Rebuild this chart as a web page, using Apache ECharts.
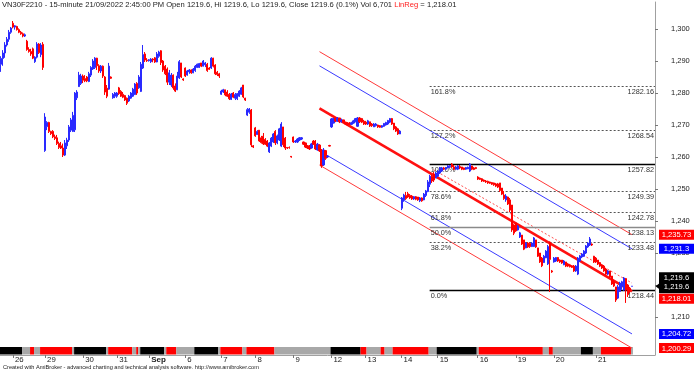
<!DOCTYPE html>
<html><head><meta charset="utf-8">
<script src="https://cdn.jsdelivr.net/npm/echarts@6/dist/echarts.min.js"></script>
<style>html,body{margin:0;padding:0;background:#fff}#c{width:695px;height:373px}</style>
</head><body><div id="c"></div>
<script>
// ---- DATA: 15-minute bars, each row [open, high, low, close] ----
const aug25 = [[1289,1291.5,1286.6,1290.8],[1290.8,1293.4,1288.5,1292.5],[1292.5,1295.9,1291,1295],[1295,1297.5,1294.5,1296.8],[1296.8,1299.7,1296,1299],[1299,1300.6,1298.5,1300.3]];
const aug26 = [[1301.8,1302.5,1300.2,1300.6],[1300.6,1301.2,1299.8,1301],[1300.8,1301,1299.5,1299.8],[1299.8,1300.2,1298.7,1299],[1299,1299.4,1298.2,1298.5],[1298.5,1298.9,1297.4,1297.8],[1297.8,1298.6,1297.5,1298.2],[1296.2,1296.6,1293.2,1293.6],[1293.6,1294.3,1292.6,1293],[1293,1293.8,1291.6,1292.2],[1293.8,1294.2,1290.6,1290.9],[1289.8,1291.5,1289.4,1291.2],[1291.2,1295.9,1290.8,1295.3],[1295.3,1295.6,1292.2,1292.6],[1292,1295.6,1291.2,1295],[1295.2,1295.9,1287.2,1288]];
const aug29 = [[1262,1273.7,1261.6,1272.5],[1269.5,1271.2,1268.4,1270.8],[1270.8,1271,1267.5,1268],[1268,1268.2,1266.9,1267.3],[1268,1268.4,1265.9,1266.3],[1266.3,1267,1265.3,1265.8],[1266,1266.9,1263.75,1264.2],[1264.2,1264.8,1262.5,1263],[1263.5,1264.7,1262.5,1262.8],[1262.8,1264.2,1260,1260.6],[1260.6,1265.3,1260.3,1264.4],[1263.5,1266,1262.5,1265.3],[1265.3,1270,1264.7,1269.4],[1268.4,1272.2,1267.8,1271.6],[1268,1274.1,1267.8,1273],[1268.5,1280.3,1267.8,1280],[1278.5,1280.9,1277.8,1280.3],[1282,1286.6,1281.9,1285.6],[1283,1286,1282.5,1285.3]];
const aug30 = [[1285.3,1285.8,1283.1,1284],[1284.5,1285.6,1283.4,1283.8],[1285,1285.3,1283.4,1283.8],[1283.6,1286.6,1283.4,1286],[1285.6,1288.4,1285,1288],[1287.5,1290.6,1287.2,1290],[1288,1291.2,1287.5,1290.9],[1290.9,1291,1287.2,1288.5],[1288.5,1289,1286.3,1286.9],[1286.9,1288.75,1286.25,1288.4],[1288.4,1288.6,1284.7,1285.3],[1285,1285.3,1279.4,1280.3],[1281.5,1282.5,1278.4,1279],[1281.2,1289.4,1281,1288.4],[1285,1285.2,1284.4,1284.6],[1278.5,1280,1278.2,1279.6],[1279,1280.3,1278.4,1280]];
const aug31 = [[1279,1280.3,1278.5,1280],[1281.6,1281.9,1279.4,1279.8],[1280.5,1280.9,1278.75,1279],[1279.6,1280.3,1278.4,1278.7],[1279.2,1279.4,1277.5,1277.8],[1278.4,1278.6,1276.25,1276.8],[1277.5,1279.4,1277.2,1279],[1278.4,1280.3,1278.2,1280],[1279,1281.6,1278.75,1281.2],[1279.5,1283.1,1279.4,1282.8],[1283,1283.4,1279.4,1280],[1281.6,1285.6,1281.3,1285],[1280.5,1289.7,1280.3,1289],[1287.8,1295,1287.5,1292],[1292.2,1292.8,1289.7,1290.3],[1290.3,1290.9,1289.7,1290.1]];
const sep05 = [[1290.1,1290.6,1289.8,1290.4],[1289.8,1290.9,1289.4,1290.6],[1290.6,1290.9,1289.6,1290.3],[1291,1291.25,1289.4,1289.7],[1289.7,1292.8,1289.6,1292.2],[1291.5,1293.2,1291,1292.8],[1293.2,1293.4,1288.75,1289.5],[1290,1290.3,1286.6,1287.2],[1288.4,1288.75,1285.6,1286],[1287.5,1288,1282.5,1283.4],[1283.4,1287.2,1282.5,1286.3],[1282.5,1286.25,1281.9,1285.6],[1285.6,1285.8,1281,1281.6],[1282.2,1283,1280.3,1280.6],[1281,1286.6,1280.9,1285.3],[1284.7,1290.3,1284.4,1289.8],[1289.4,1289.4,1284.7,1285],[1284.4,1284.6,1283.8,1284.1]];
const sep06 = [[1287.8,1288,1285,1285.3],[1285.6,1287.2,1285.4,1286.9],[1286.6,1287.5,1286,1287.2],[1287.2,1287.4,1286,1286.3],[1286.3,1287.8,1286.2,1287.5],[1287,1288.75,1286.6,1288.4],[1288,1289.2,1287.8,1289],[1288,1289.4,1287.8,1289.2],[1289.4,1289.4,1288.1,1288.4],[1288.4,1290.3,1288.3,1290],[1288.8,1289.7,1288.1,1289.4],[1289,1289.4,1286.6,1287],[1287.8,1288.1,1287.2,1287.4],[1287.8,1291.2,1287.5,1290.9],[1290.9,1291,1288,1288.4],[1288.75,1289,1285.6,1286],[1286.5,1286.9,1285.3,1285.8],[1286,1286.3,1284.7,1285.3]];
const sep07 = [[1279.6,1281,1279.4,1280.6],[1280.3,1281.3,1280,1281],[1281,1281,1279,1279.4],[1280.3,1280.9,1278.75,1279],[1279.6,1280,1277.8,1278.2],[1278,1280,1277.8,1279.7],[1280,1280.3,1278.4,1278.7],[1278.4,1280,1277.8,1279.5],[1278.2,1280,1277.8,1279.8],[1279,1280.9,1278.75,1280.6],[1279.6,1281.9,1279.4,1281.6],[1282.5,1282.5,1278.4,1278.75],[1278.4,1278.5,1277.5,1277.8],[1273.1,1275.3,1272.8,1274.8],[1274,1275.3,1273.5,1275],[1274.7,1275,1263.1,1263.8],[1263.5,1263.75,1262.8,1263.1]];
const sep08 = [[1269.1,1269.4,1266.3,1266.6],[1267,1268.4,1266.9,1268],[1268.4,1268.4,1264.7,1265],[1266,1266.6,1264.2,1264.5],[1266.5,1267.5,1263.75,1264.1],[1265.5,1265.9,1263.75,1264],[1265,1265.3,1263.1,1263.4],[1261.6,1264.7,1261.25,1264.4],[1263.4,1266.25,1263.1,1265.9],[1264.7,1267.5,1264.4,1267.2],[1268,1268.4,1263.75,1264.4],[1264.4,1267,1264,1266.6],[1265.3,1269.1,1265,1268.8],[1263.4,1270.9,1263.1,1270.3],[1269.4,1269.4,1263.1,1263.8],[1265.9,1266.25,1262.2,1262.8],[1263,1263.1,1262.5,1262.8],[1263,1263.3,1262.6,1262.9],[1260.2,1260.3,1259.8,1260]];
const sep09 = [[1266.25,1266.4,1264.4,1264.7],[1264.7,1265.3,1264.4,1265],[1264.7,1265.9,1264.4,1265.6],[1265.3,1266.25,1265,1266],[1265.6,1266.25,1265.3,1266],[1264.7,1264.8,1263.75,1264],[1264.4,1264.5,1262.8,1263.1],[1263.5,1263.75,1262.5,1262.8],[1263.4,1263.75,1262.2,1262.5],[1262.8,1264.4,1262.6,1264.1],[1265,1265.3,1263.75,1264],[1264,1265.3,1262.2,1262.5],[1262.2,1264.4,1262,1264],[1263.75,1264,1261.6,1261.9],[1262.2,1262.5,1256.6,1257.2],[1257.5,1262.8,1257.2,1262.2],[1262,1262.2,1259.1,1259.6],[1260,1260.6,1259.7,1260.3],[1263.6,1263.8,1263.3,1263.4]];
const sep12 = [[1269.4,1272.2,1269.1,1271.9],[1270.6,1272.2,1270.5,1272],[1272.2,1272.5,1270.9,1271.2],[1271.2,1272.5,1271,1272.2],[1272.2,1272.2,1270.6,1271],[1271,1272,1270.8,1271.6],[1271.6,1271.6,1270.6,1270.9],[1270.9,1271,1270,1270.3],[1270.6,1270.9,1269.7,1270],[1270.6,1270.9,1270,1270.2],[1270.2,1271,1270,1270.7],[1270.6,1271.6,1270.4,1271.3],[1271,1272.2,1270.9,1272],[1269.6,1272.5,1269.4,1272.2],[1272.2,1272.5,1270.6,1271],[1272,1272.2,1270.6,1270.9],[1271.2,1271.6,1270,1270.3]];
const sep13 = [[1270.9,1271.3,1270,1270.3],[1270.3,1271.6,1270,1271.3],[1271,1271,1269.4,1269.7],[1270.3,1270.6,1269.4,1269.8],[1269.4,1270.6,1269.4,1270.3],[1269.8,1270.6,1269.5,1270.3],[1270,1270.1,1269.1,1269.4],[1269.8,1270,1269.1,1269.3],[1269.3,1270,1269.1,1269.8],[1269.6,1270.6,1269.4,1270.5],[1270,1271,1269.8,1270.8],[1270.3,1271.6,1270,1271.4],[1270.9,1272.2,1270.6,1272],[1272,1272.2,1270,1270.3],[1270.6,1270.6,1268.4,1268.8],[1269.4,1269.7,1267.8,1268.1],[1268.8,1269.1,1266.9,1267.2],[1267.2,1268.4,1267.2,1268.1]];
const sep14 = [[1244,1247.5,1243.4,1247.2],[1246.6,1248.5,1246,1248.1],[1248,1249.1,1246.6,1247],[1248.5,1249.1,1247.2,1247.5],[1248,1248.4,1246.9,1247.2],[1247.8,1248.1,1246.6,1246.9],[1246.9,1247.8,1246.6,1247.6],[1247.6,1247.8,1246.5,1246.8],[1247.5,1247.5,1246.3,1246.6],[1246.3,1247.5,1245.9,1247.2],[1247.2,1247.4,1246,1246.3],[1246.6,1248.75,1246.5,1248.4],[1248,1249.7,1247.5,1249.4],[1249.2,1252.8,1249,1252.2],[1251.5,1254.4,1250.6,1254],[1254,1254.4,1251.9,1252.5],[1254.7,1255.3,1252.2,1252.8],[1253.4,1255.3,1253.4,1255]];
const sep15 = [[1254,1255.9,1253.75,1255.6],[1255,1256.9,1254.7,1256.6],[1255.6,1256.9,1255.3,1256.6],[1256.6,1256.9,1255.9,1256.2],[1256.2,1256.9,1256,1256.7],[1256.6,1257.5,1256.5,1257.2],[1257,1257.5,1256.6,1257.3],[1257.8,1258.1,1256.6,1256.9],[1256.9,1257.5,1255.9,1256.2],[1256.2,1257.2,1256,1256.9],[1256.2,1257.5,1255.9,1257.2],[1257,1257.5,1256.2,1256.6],[1256.9,1256.9,1255.9,1256.2],[1256.6,1256.7,1255.9,1256.1],[1256.2,1256.9,1256,1256.7],[1256.3,1257,1256.2,1256.8],[1255.6,1258.1,1255.3,1257.8],[1257.2,1257.2,1255.9,1256.2],[1256.6,1256.9,1255.9,1256.1],[1256.7,1256.9,1256.2,1256.4]];
const sep16 = [[1253.75,1254,1252.8,1253.1],[1253.4,1253.6,1252.8,1253],[1253.2,1253.4,1252.2,1252.5],[1252.8,1253,1252.2,1252.4],[1252.5,1252.8,1251.9,1252.2],[1252.4,1252.6,1251.6,1251.9],[1252.2,1252.3,1251.6,1251.8],[1252,1252.2,1251.25,1251.5],[1251.9,1252,1251,1251.3],[1251.6,1251.9,1250.6,1250.9],[1251.6,1251.9,1250.3,1250.6],[1251.9,1251.9,1249.1,1249.5],[1250.3,1250.3,1248.1,1248.4],[1248.1,1249.4,1246.6,1247],[1246.6,1248.4,1246,1247.8],[1247.5,1247.6,1245,1245.3],[1246.6,1247.2,1242.8,1243.4],[1245,1245,1236.6,1237.2],[1238.75,1239,1235.6,1236.2]];
const sep19 = [[1239.4,1239.4,1236.6,1236.9],[1237.2,1238.75,1237,1238.4],[1235,1236.6,1234.7,1236.3],[1235.6,1235.6,1232.5,1232.8],[1234.1,1234.1,1230.9,1231.2],[1231.6,1233.4,1231.5,1233.1],[1233.1,1233.4,1231.6,1231.9],[1233,1233.4,1231.6,1232],[1232,1233.4,1231.9,1233.1],[1232,1235,1231.9,1234.7],[1234.1,1234.1,1231.6,1231.9],[1231.6,1231.6,1228.75,1229],[1230,1230,1226.9,1227.2],[1228.4,1228.75,1225.6,1226],[1227,1229.4,1226.9,1229],[1228.5,1230.9,1228.4,1230.6],[1226.6,1232.5,1226.25,1232],[1233.4,1233.6,1217.8,1228],[1224.4,1224.7,1223.8,1224.1]];
const sep20 = [[1227.2,1228.75,1227,1228.4],[1227.5,1228.75,1227.2,1228.6],[1228.6,1228.75,1227.2,1227.5],[1227.8,1228,1226.9,1227.2],[1227.8,1227.8,1226.6,1226.9],[1226.3,1227.8,1226.2,1227.5],[1227.2,1227.2,1225.6,1225.9],[1226.6,1226.9,1225.6,1225.9],[1226.3,1226.6,1225.5,1225.7],[1226,1226.25,1225.3,1225.5],[1225.9,1226.25,1224.1,1224.4],[1224.4,1226.25,1224.1,1225.9],[1223.4,1228.75,1223.1,1228.4],[1227.5,1229.4,1227.2,1229.1],[1228.75,1230,1228.4,1229.7],[1229,1230.9,1228.75,1230.6],[1230,1232.5,1229.7,1232.2],[1231.9,1233.4,1231.6,1233.1],[1232.5,1235,1232.2,1234.4],[1232.8,1233,1232.2,1232.5],[1229,1229.1,1226.9,1227.2]];
const sep21 = [[1228.4,1228.75,1226.9,1227.2],[1227.8,1227.8,1226.25,1226.6],[1227,1227.2,1225.6,1225.9],[1226.3,1226.6,1225,1225.3],[1225.9,1226.25,1224.1,1224.4],[1225,1225.3,1223.1,1223.4],[1223.4,1224.7,1223.1,1224.4],[1224.4,1224.4,1222.2,1222.5],[1222.8,1222.8,1220,1220.3],[1221,1221.6,1219.4,1219.7],[1219.4,1219.4,1214.7,1215.3],[1215.9,1220,1215.6,1219.4],[1218,1221,1217.8,1220.6],[1219.5,1221.3,1218.5,1221],[1218.4,1222.5,1218.2,1222.2],[1222,1222.2,1214.4,1218.4],[1220,1220.3,1216.25,1217],[1219,1219.4,1217.5,1218.4],[1219.6,1219.6,1219.6,1219.6]];

const days = [aug25, aug26, aug29, aug30, aug31, sep05, sep06, sep07, sep08, sep09, sep12, sep13, sep14, sep15, sep16, sep19, sep20, sep21];
const dayLabels = ['25', '26', '29', '30', '31', 'Sep', '6', '7', '8', '9', '12', '13', '14', '15', '16', '19', '20', '21'];
const yTicks = [1210, 1220, 1230, 1240, 1250, 1260, 1270, 1280, 1290, 1300];

// linear regression channel (bar index, value) and band widths
const linRegStartIdx = 159, linRegStartVal = 1275.2;
const linRegEndIdx = 315, linRegEndVal = 1218.01;
const bandInner = 13.29, bandOuter = 17.72;
// dashed trend line
const dashStartIdx = 216, dashStartVal = 1256.0, dashEndIdx = 315, dashEndVal = 1220.6;

// Fibonacci levels
const fibPct = ['161.8%', '127.2%', '100.0%', '78.6%', '61.8%', '50.0%', '38.2%', '0.0%'];
const fibVal = [1282.16, 1268.54, 1257.82, 1249.39, 1242.78, 1238.13, 1233.48, 1218.44];
const fibStartIdx = 214;

// trend ribbon: run lengths (bars) and state (k = neutral dark, g = flat, r = down)
const ribbonLen = [11,4,2,3,16,1,16,1,12,2,1,1,12,1,5,9,12,1,11,2,14,28,15,3,7,2,4,18,4,20,1,32,3,2,14,6,4,15,1];
const ribbonState = ['k','g','r','g','r','g','k','g','r','g','r','g','k','g','r','g','k','g','r','g','r','g','k','r','g','r','g','r','g','k','g','r','g','r','g','k','g','r','g'];
const volume = 6701;

// ---- build ----
const FONT = '"Liberation Sans", Arial, sans-serif';
const bars = [].concat(...days);
const nBars = bars.length;
const nPad = 11;
const cats = [];
for (let i = 0; i < nBars + nPad; i++) cats.push(String(i));
const labelAt = {};
let k0 = 0;
days.forEach((d, di) => { if (di > 0) labelAt[k0] = dayLabels[di]; k0 += d.length; });
const candle = bars.map(b => [b[0], b[3], b[2], b[1]]);

const ribbon = [];
let s0 = 0;
ribbonLen.forEach((n, i) => { ribbon.push([s0, s0 + n - 1, ribbonState[i]]); s0 += n; });
const ribbonColor = { k: '#000000', g: '#a8a8a8', r: '#ff0000' };

const last = bars[nBars - 1], prevClose = bars[nBars - 2][3];
const pctChg = ((last[3] - prevClose) / prevClose * 100).toFixed(1);
const fmt = v => v.toLocaleString('en-US', { maximumFractionDigits: 2 });

const headText = 'VN30F2210 - 15-minute 21/09/2022 2:45:00 PM Open ' + last[0] + ', Hi ' + last[1] + ', Lo ' + last[2] +
  ', Close ' + last[3] + ' (' + pctChg + '%) Vol ' + volume.toLocaleString('en-US') + ' ';

function lineAt(idx, off) {
  const t = (idx - linRegStartIdx) / (linRegEndIdx - linRegStartIdx);
  return linRegStartVal + (linRegEndVal - linRegStartVal) * t + off;
}
function chan(off) { return [[linRegStartIdx, lineAt(linRegStartIdx, off)], [linRegEndIdx, lineAt(linRegEndIdx, off)]]; }

const tags = [
  { v: lineAt(linRegEndIdx, bandOuter), c: '#ff0000' },
  { v: lineAt(linRegEndIdx, bandInner), c: '#0000ff' },
  { v: lineAt(linRegEndIdx, 0), c: '#ff0000', below: true },
  { v: lineAt(linRegEndIdx, -bandInner), c: '#0000ff' },
  { v: lineAt(linRegEndIdx, -bandOuter), c: '#ff0000' }
];

const chart = echarts.init(document.getElementById('c'), null, { renderer: 'canvas' });
const gridRight = 40;
chart.setOption({
  animation: false,
  backgroundColor: '#ffffff',
  title: [
    { text: '{a|' + headText + '}{r|LinReg}{a| = ' + fmt(linRegEndVal) + '}', left: 2, top: 1, padding: 0,
      textStyle: { fontWeight: 'normal', rich: { a: { fontSize: 7.6, fontWeight: 'normal', color: '#222', fontFamily: FONT }, r: { fontSize: 7.6, fontWeight: 'normal', color: '#ff2020', fontFamily: FONT } } } },
    { text: 'Created with AmiBroker - advanced charting and technical analysis software. http://www.amibroker.com', left: 3, top: 364, padding: 0,
      textStyle: { fontSize: 5.6, fontWeight: 'normal', color: '#222', fontFamily: FONT } }
  ],
  grid: { left: 0, right: gridRight, top: 2, bottom: 18, show: false },
  xAxis: {
    type: 'category', data: cats, boundaryGap: true,
    axisLine: { show: true, lineStyle: { color: '#a0a0a0', width: 1 } },
    axisTick: { show: true, alignWithLabel: true, length: 3, interval: (i) => labelAt[i] !== undefined, lineStyle: { color: '#777' } },
    axisLabel: { show: true, interval: (i) => labelAt[i] !== undefined, formatter: (v, i) => labelAt[i] === 'Sep' ? '{b|Sep}' : labelAt[i],
      align: 'left', padding: [0, 0, 0, 2], margin: 1, fontSize: 7.8, color: '#222', fontFamily: FONT,
      rich: { b: { fontWeight: 'bold', fontSize: 8, color: '#222', fontFamily: FONT } } },
    splitLine: { show: false }
  },
  yAxis: {
    type: 'value', position: 'right', min: 1198.125, max: 1308.44, scale: true,
    axisLine: { show: true, lineStyle: { color: '#a0a0a0' } },
    axisTick: { show: true, length: 3, customValues: yTicks, lineStyle: { color: '#777' } },
    axisLabel: { show: true, customValues: yTicks, formatter: v => fmt(v), margin: 16, fontSize: 7.5, color: '#222', fontFamily: FONT },
    splitLine: { show: false }
  },
  series: [
    { type: 'custom', name: 'ribbon', clip: false, silent: true, z: 1,
      data: ribbon.map(r => [r[0], r[1]]),
      encode: { x: [0, 1] },
      renderItem: (params, api) => {
        const cs = params.coordSys;
        const bw = api.size([1, 0])[0];
        const a = api.coord([api.value(0), linRegEndVal])[0] - bw / 2;
        const b = api.coord([api.value(1), linRegEndVal])[0] + bw / 2;
        const yb = cs.y + cs.height;
        return { type: 'rect', shape: { x: a, y: yb - 8, width: b - a, height: 7.5 },
          style: { fill: ribbonColor[ribbon[params.dataIndex][2]] } };
      } },
    { type: 'line', name: 'outerUp', data: chan(bandOuter), symbol: 'none', lineStyle: { color: '#ff3a3a', width: 1 }, z: 3 },
    { type: 'line', name: 'innerUp', data: chan(bandInner), symbol: 'none', lineStyle: { color: '#3a3aff', width: 1 }, z: 3 },
    { type: 'line', name: 'innerDn', data: chan(-bandInner), symbol: 'none', lineStyle: { color: '#3a3aff', width: 1 }, z: 3 },
    { type: 'line', name: 'outerDn', data: chan(-bandOuter), symbol: 'none', lineStyle: { color: '#ff3a3a', width: 1 }, z: 3 },
    { type: 'line', name: 'dash', data: [[dashStartIdx, dashStartVal], [dashEndIdx, dashEndVal]], symbol: 'none', lineStyle: { color: '#ff5050', width: 1, type: [2, 2] }, z: 3 },
    { type: 'custom', name: 'fib', clip: false, silent: true, z: 4,
      data: fibVal.map(v => [fibStartIdx, v]),
      encode: { x: 0, y: 1 },
      renderItem: (params, api) => {
        const i = params.dataIndex;
        const cs = params.coordSys;
        const p = api.coord([fibStartIdx, fibVal[i]]);
        const xr = cs.x + cs.width;
        const pct = fibPct[i];
        let ls;
        if (pct === '100.0%' || pct === '0.0%') ls = { stroke: '#000', lineWidth: 1.6 };
        else if (pct === '50.0%') ls = { stroke: '#8a8a8a', lineWidth: 1.6 };
        else ls = { stroke: '#555', lineWidth: 1, lineDash: [2, 2] };
        const y = Math.round(p[1]) + 0.5;
        const font = '7.3px ' + FONT;
        return { type: 'group', children: [
          { type: 'line', shape: { x1: p[0], y1: y, x2: xr, y2: y }, style: ls },
          { type: 'text', style: { text: pct, x: p[0] + 1, y: y + 1.5, fill: '#333', font: font, verticalAlign: 'top' } },
          { type: 'text', style: { text: fibVal[i].toFixed(2), x: xr - 1, y: y + 1.5, fill: '#333', font: font, align: 'right', verticalAlign: 'top' } }
        ] };
      } },
    { type: 'line', name: 'LinReg', data: chan(0), symbol: 'none', lineStyle: { color: '#ff1010', width: 2.6 }, z: 5 },
    { type: 'candlestick', name: 'VN30F2210', data: candle, barWidth: 1.6, z: 6,
      itemStyle: { color: '#2a2aff', color0: '#ff0000', borderColor: '#2a2aff', borderColor0: '#ff0000', borderWidth: 1 } },
    { type: 'custom', name: 'tags', clip: false, silent: true, z: 10,
      data: tags.map(t => [linRegEndIdx, t.v]),
      encode: { x: 0, y: 1 },
      renderItem: (params, api) => {
        const cs = params.coordSys;
        const x0 = cs.x + cs.width + 4;
        const w = 35;
        const font = '7.6px ' + FONT;
        const t = tags[params.dataIndex];
        let yc = api.coord([linRegEndIdx, t.v])[1];
        const closeY = api.coord([linRegEndIdx, last[3]])[1];
        const children = [];
        if (t.below) {
          yc = Math.max(yc, closeY + 7 + 5.5);
          children.push({ type: 'polygon', shape: { points: [[x0 - 3.5, closeY], [x0 + 0.5, closeY - 3], [x0 + 0.5, closeY + 3]] }, style: { fill: '#000' } });
          children.push({ type: 'rect', shape: { x: x0, y: closeY - 14, width: w, height: 21 }, style: { fill: '#000' } });
          children.push({ type: 'text', style: { text: fmt(last[3]), x: x0 + w / 2, y: closeY - 8.5, fill: '#fff', font: font, align: 'center', verticalAlign: 'middle' } });
          children.push({ type: 'text', style: { text: fmt(last[3]), x: x0 + w / 2, y: closeY + 0.5, fill: '#fff', font: font, align: 'center', verticalAlign: 'middle' } });
        }
        children.push({ type: 'rect', shape: { x: x0, y: yc - 5, width: w, height: 10 }, style: { fill: t.c } });
        children.push({ type: 'text', style: { text: fmt(t.v), x: x0 + w / 2, y: yc + 0.5, fill: '#fff', font: font, align: 'center', verticalAlign: 'middle' } });
        return { type: 'group', children };
      } }
  ]
});
</script></body></html>
